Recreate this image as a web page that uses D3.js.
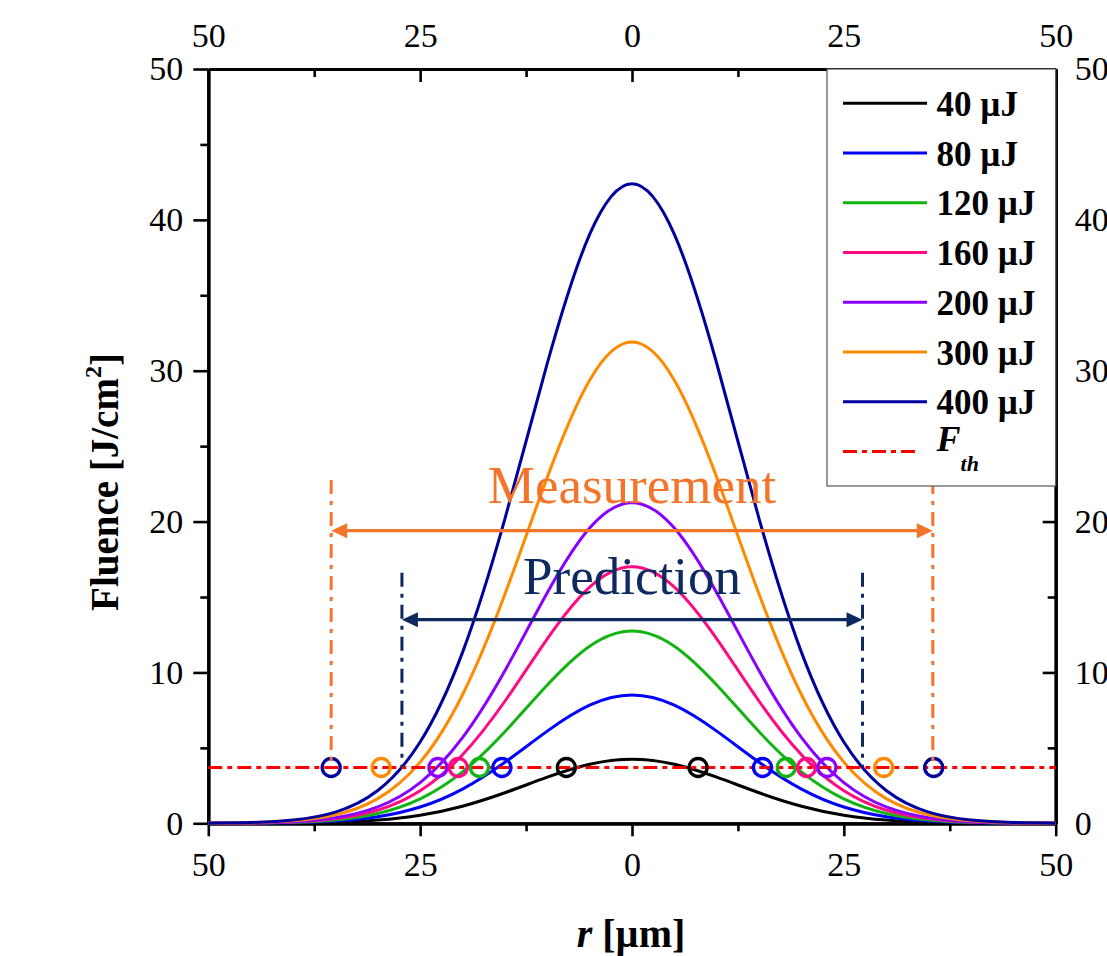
<!DOCTYPE html>
<html>
<head>
<meta charset="utf-8">
<script src="https://cdn.jsdelivr.net/npm/d3@7"></script>
<style>
  html, body { margin: 0; padding: 0; background: #fff; }
  svg { display: block; }
  text { font-family: "Liberation Serif", "Times New Roman", serif; }
</style>
</head>
<body>
<svg id="chart" width="1107" height="956"></svg>
<script>
// ---------------- data ----------------
const radius = [-50,-45,-40,-35,-30,-25,-20,-15,-10,-5,0,5,10,15,20,25,30,35,40,45,50];
const energies = ["40 µJ","80 µJ","120 µJ","160 µJ","200 µJ","300 µJ","400 µJ"];
const fluence40  = [0.001,0.005,0.022,0.075,0.218,0.540,1.135,2.023,3.055,3.913,4.25,3.913,3.055,2.023,1.135,0.540,0.218,0.075,0.022,0.005,0.001];
const fluence80  = [0.002,0.011,0.043,0.149,0.436,1.080,2.270,4.045,6.111,7.827,8.50,7.827,6.111,4.045,2.270,1.080,0.436,0.149,0.043,0.011,0.002];
const fluence120 = [0.003,0.016,0.065,0.224,0.654,1.621,3.406,6.068,9.166,11.74,12.75,11.74,9.166,6.068,3.406,1.621,0.654,0.224,0.065,0.016,0.003];
const fluence160 = [0.004,0.021,0.087,0.298,0.872,2.161,4.541,8.090,12.22,15.65,17.00,15.65,12.22,8.090,4.541,2.161,0.872,0.298,0.087,0.021,0.004];
const fluence200 = [0.006,0.027,0.108,0.373,1.090,2.701,5.676,10.11,15.28,19.57,21.25,19.57,15.28,10.11,5.676,2.701,1.090,0.373,0.108,0.027,0.006];
const fluence300 = [0.008,0.040,0.162,0.560,1.636,4.054,8.520,15.18,22.93,29.37,31.90,29.37,22.93,15.18,8.520,4.054,1.636,0.560,0.162,0.040,0.008];
const fluence400 = [0.011,0.053,0.216,0.744,2.175,5.389,11.33,20.18,30.48,39.04,42.40,39.04,30.48,20.18,11.33,5.389,2.175,0.744,0.216,0.053,0.011];
const thresholdFluence = 3.7;
const measuredLeft  = [-7.75,-15.35,-18.0,-20.5,-22.9,-29.6,-35.5];
const measuredRight = [7.8,15.4,18.2,20.6,23.0,29.7,35.6];
const xTicks = [-50,-25,0,25,50];
const xMinorTicks = [-37.5,-12.5,12.5,37.5];
const yTicks = [0,10,20,30,40,50];
const yMinorTicks = [5,15,25,35,45];
const measurementSpan = [-35.5, 35.5];
const predictionSpan = [-27.15, 27.2];

// ---------------- styles ----------------
const colors = ["#000000","#0000FF","#12B412","#FF0A82","#8A00FF","#FF8A00","#00009C"];
const annoOrange = "#F4742A";
const annoNavy = "#0D2A60";

const series = energies.map((e,i) => ({
  name: e, color: colors[i],
  values: [fluence40,fluence80,fluence120,fluence160,fluence200,fluence300,fluence400][i]
}));

const svg = d3.select("#chart");
const x = d3.scaleLinear().domain([-50,50]).range([208.3,1055.7]);
const y = d3.scaleLinear().domain([0,50]).range([823.3,69]);
const fmt = d => Math.abs(d);
const tickFont = "34px";

function styleAxis(g) {
  g.selectAll("path.domain").attr("stroke","#000").attr("stroke-width",3.2);
  g.selectAll(".tick line").attr("stroke","#000").attr("stroke-width",2.6);
  g.selectAll(".tick text").attr("fill","#000").style("font-size",tickFont)
    .style("font-family","'Liberation Serif', serif");
}

// minor ticks
svg.append("g").attr("transform",`translate(0,${y(0)})`)
  .call(d3.axisBottom(x).tickValues(xMinorTicks).tickSize(8).tickFormat("").tickSizeOuter(0)).call(styleAxis);
svg.append("g").attr("transform",`translate(0,${y(50)})`)
  .call(d3.axisTop(x).tickValues(xMinorTicks).tickSize(-8).tickFormat("").tickSizeOuter(0)).call(styleAxis);
svg.append("g").attr("transform",`translate(${x(-50)},0)`)
  .call(d3.axisLeft(y).tickValues(yMinorTicks).tickSize(8).tickFormat("").tickSizeOuter(0)).call(styleAxis);
svg.append("g").attr("transform",`translate(${x(50)},0)`)
  .call(d3.axisRight(y).tickValues(yMinorTicks).tickSize(-8).tickFormat("").tickSizeOuter(0)).call(styleAxis);

// major axes
svg.append("g").attr("transform",`translate(0,${y(0)})`)
  .call(d3.axisBottom(x).tickValues(xTicks).tickFormat(fmt).tickSize(13).tickPadding(16).tickSizeOuter(0)).call(styleAxis);
svg.append("g").attr("transform",`translate(0,${y(50)})`)
  .call(d3.axisTop(x).tickValues(xTicks).tickFormat(fmt).tickSize(-13).tickPadding(22).tickSizeOuter(0)).call(styleAxis);
svg.append("g").attr("transform",`translate(${x(-50)},0)`)
  .call(d3.axisLeft(y).tickValues(yTicks).tickSize(15).tickPadding(10).tickSizeOuter(0)).call(styleAxis);
svg.append("g").attr("transform",`translate(${x(50)},0)`)
  .call(d3.axisRight(y).tickValues(yTicks).tickSize(-13).tickPadding(19).tickSizeOuter(0)).call(styleAxis);

// curves
const line = d3.line().x((d,i) => x(radius[i])).y(d => y(d)).curve(d3.curveNatural);
svg.append("g").selectAll("path").data(series).join("path")
  .attr("d", d => line(d.values))
  .attr("fill","none").attr("stroke", d => d.color).attr("stroke-width",3);

// threshold line
svg.append("line")
  .attr("x1", x(-50)).attr("x2", x(50))
  .attr("y1", y(thresholdFluence)).attr("y2", y(thresholdFluence))
  .attr("stroke","#FF0000").attr("stroke-width",3.2).attr("stroke-dasharray","14,5,5,5");

// measured circles
const circ = [];
series.forEach((s,i) => { circ.push({r: measuredLeft[i], c: s.color}); circ.push({r: measuredRight[i], c: s.color}); });
svg.append("g").selectAll("circle").data(circ).join("circle")
  .attr("cx", d => x(d.r)).attr("cy", y(thresholdFluence)).attr("r", 9)
  .attr("fill","none").attr("stroke", d => d.c).attr("stroke-width",3.3);

// annotations
function arrowSpan(span, yLine, yTop, color, label, yLabel, dash) {
  const g = svg.append("g");
  span.forEach(v => {
    g.append("line").attr("x1", x(v)).attr("x2", x(v))
      .attr("y1", y(yTop)).attr("y2", y(thresholdFluence))
      .attr("stroke", color).attr("stroke-width", 3).attr("stroke-dasharray", dash);
  });
  const x0 = x(span[0]), x1 = x(span[1]), yy = y(yLine);
  g.append("line").attr("x1", x0 + 10).attr("x2", x1 - 10).attr("y1", yy).attr("y2", yy)
    .attr("stroke", color).attr("stroke-width", 3.2);
  g.append("path").attr("d", `M${x0},${yy} L${x0+16},${yy-7.5} L${x0+16},${yy+7.5} Z`).attr("fill", color);
  g.append("path").attr("d", `M${x1},${yy} L${x1-16},${yy-7.5} L${x1-16},${yy+7.5} Z`).attr("fill", color);
  g.append("text").attr("x", x(0)).attr("y", y(yLabel)).attr("text-anchor","middle")
    .attr("fill", color).style("font-size","53px").text(label);
}
arrowSpan(measurementSpan, 19.4, 22.75, annoOrange, "Measurement", 21.2, "14,7,4,7");
arrowSpan(predictionSpan, 13.5, 16.6, annoNavy, "Prediction", 15.2, "14,7,4,7");

// legend
const lg = svg.append("g");
lg.append("rect").attr("x", 827).attr("y", y(50)).attr("width", x(50) - 827).attr("height", 486 - y(50))
  .attr("fill","#fff").attr("stroke","#555").attr("stroke-width",1.2);
series.forEach((s,i) => {
  const ly = 103.3 + i * 49.75;
  lg.append("line").attr("x1", 843).attr("x2", 927).attr("y1", ly).attr("y2", ly)
    .attr("stroke", s.color).attr("stroke-width", 3);
  lg.append("text").attr("x", 936.5).attr("y", ly + 12.5)
    .style("font-size","35px").style("font-weight","bold").attr("fill","#000").text(s.name);
});
const fy = 103.3 + 7 * 49.75;
lg.append("line").attr("x1", 843).attr("x2", 920).attr("y1", fy).attr("y2", fy)
  .attr("stroke","#FF0000").attr("stroke-width",3).attr("stroke-dasharray","14,5,5,5");
const ft = lg.append("text").attr("x", 936.5).attr("y", 451)
  .style("font-size","36px").style("font-weight","bold").style("font-style","italic").attr("fill","#000");
ft.append("tspan").text("F");
ft.append("tspan").attr("dy", 20).style("font-size","22px").text("th");

// axis titles
const xt = svg.append("text").attr("x", 631).attr("y", 946.5).attr("text-anchor","middle")
  .style("font-size","40px").style("font-weight","bold").attr("fill","#000");
xt.append("tspan").style("font-style","italic").text("r");
xt.append("tspan").text(" [µm]");

const yt = svg.append("text").attr("transform","translate(118,482) rotate(-90)").attr("text-anchor","middle")
  .style("font-size","39px").style("font-weight","bold").attr("fill","#000");
yt.append("tspan").text("Fluence [J/cm");
yt.append("tspan").attr("dy", -17).style("font-size","24px").text("2");
yt.append("tspan").attr("dy", 17).text("]");
</script>
</body>
</html>
